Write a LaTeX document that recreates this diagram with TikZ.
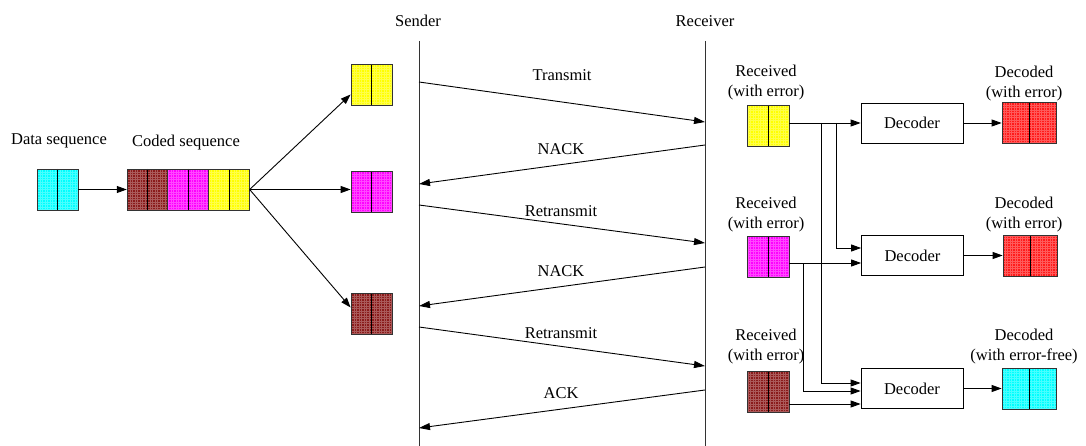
\documentclass[tikz,border=0pt]{standalone}
\usepackage{fontspec}
\setmainfont{Liberation Serif}
\usetikzlibrary{arrows.meta}

% cell colours
\definecolor{cyanbase}{HTML}{00FFFF}
\definecolor{yellowbase}{HTML}{FFFF00}
\definecolor{magentabase}{HTML}{FF00FF}
\definecolor{brownbase}{HTML}{8A1A1A}
\definecolor{redbase}{HTML}{FF1A1A}

\begin{document}
\begin{tikzpicture}[x=1pt,y=-1pt,
  font=\fontsize{16.5}{20}\selectfont,
  every node/.style={inner sep=0pt},
  twocell/.style={draw=black!80, line width=0.8pt,
    minimum width=41pt, minimum height=41pt,
    fill=#1base,
    path picture={
      \draw[white, opacity=0.28, line width=0.35pt, step=2.5pt]
        (path picture bounding box.south west) grid (path picture bounding box.north east);
      \draw[black, line width=0.8pt]
        (path picture bounding box.north) -- (path picture bounding box.south);}},
  outcell/.style={twocell=#1, minimum width=54pt},
  decoderbox/.style={draw, line width=0.8pt, minimum width=102pt, minimum height=40pt},
  label/.style={align=center},
  msg/.style={line width=0.9pt, -{Triangle[length=11pt,width=7pt]}},
  link/.style={line width=0.9pt, -{Triangle[length=10pt,width=7pt]}},
  lifeline/.style={line width=0.9pt, black!80}
]
\useasboundingbox (0,0) rectangle (1086,446);

% ---- source side ----
\node (datalbl) at (59,141) {Data sequence};
\node (codedlbl) at (186,143) {Coded sequence};
\node[twocell=cyan] (data) at (57.5,189.5) {};
\node[twocell=brown, minimum width=40.7pt] (cb) at (147.5,189.5) {};
\node[twocell=magenta, minimum width=40.7pt] (cm) at (188.2,189.5) {};
\node[twocell=yellow, minimum width=40.7pt] (cy) at (228.9,189.5) {};
\draw[link] (data.east) -- (cb.west);

% ---- packets at the sender ----
\node[twocell=yellow] (sy) at (371.5,84.5) {};
\node[twocell=magenta] (sm) at (371.5,191.5) {};
\node[twocell=brown] (sb) at (371.5,313.5) {};
\draw[link] (cy.east) -- ([yshift=-10pt]sy.west);
\draw[link] (cy.east) -- (cy.east -| sm.west);
\draw[link] (cy.east) -- ([yshift=6pt]sb.west);

% ---- lifelines ----
\node (sender) at (418,21) {Sender};
\node (receiver) at (705,21) {Receiver};
\coordinate (sTop) at (419,41); \coordinate (sBot) at (419,446);
\coordinate (rTop) at (705,41); \coordinate (rBot) at (705,446);
\draw[lifeline] (sTop) -- (sBot);
\draw[lifeline] (rTop) -- (rBot);

% ---- exchanged messages ----
\coordinate (s1) at (419,82);  \coordinate (r1) at (705,122);
\coordinate (r2) at (705,145); \coordinate (s2) at (419,184);
\coordinate (s3) at (419,205); \coordinate (r3) at (705,243);
\coordinate (r4) at (705,267); \coordinate (s4) at (419,306);
\coordinate (s5) at (419,327); \coordinate (r5) at (705,366);
\coordinate (r6) at (705,390); \coordinate (s6) at (419,428);
\draw[msg] (s1) -- (r1);
\draw[msg] (r2) -- (s2);
\draw[msg] (s3) -- (r3);
\draw[msg] (r4) -- (s4);
\draw[msg] (s5) -- (r5);
\draw[msg] (r6) -- (s6);
\node (m1) at (562,75) {Transmit};
\node (m2) at (561,149) {NACK};
\node (m3) at (561,211) {Retransmit};
\node (m4) at (561,271) {NACK};
\node (m5) at (561,333) {Retransmit};
\node (m6) at (561,393) {ACK};

% ---- receiver side ----
\node[label] (rl1) at (766,82.5) {Received\\(with error)};
\node[label] (rl2) at (766,215) {Received\\(with error)};
\node[label] (rl3) at (766,347) {Received\\(with error)};
\node[twocell=yellow, minimum width=42pt] (ry) at (768,125.5) {};
\node[twocell=magenta, minimum width=42pt] (rm) at (768,256.5) {};
\node[twocell=brown, minimum width=42pt] (rb) at (768,391.5) {};

\node[decoderbox] (dy) at (912,123) {Decoder};
\node[decoderbox] (dm) at (912.5,255.5) {Decoder};
\node[decoderbox] (db) at (912,388.5) {Decoder};

\node[label] (ol1) at (1024,84) {Decoded\\(with error)};
\node[label] (ol2) at (1024,215) {Decoded\\(with error)};
\node[label] (ol3) at (1024,347) {Decoded\\(with error-free)};
\node[outcell=red] (oy) at (1029,122.5) {};
\node[outcell=red] (om) at (1030,256) {};
\node[outcell=cyan] (ob) at (1029,388.5) {};

% inputs combined by each decoder
\coordinate (j1) at (821,123);
\coordinate (j2) at (836,123);
\coordinate (j3) at (803,263);
\coordinate (in2a) at ([yshift=7.5pt]dm.west);
\coordinate (in2b) at ([yshift=-7.5pt]dm.west);
\coordinate (in3a) at ([yshift=5.5pt]db.west);
\coordinate (in3b) at ([yshift=-2.5pt]db.west);
\coordinate (in3c) at ([yshift=-15.5pt]db.west);
\draw[link] (ry.east |- dy.west) -- (dy.west);
\draw[link] (j2) |- (in2a);
\draw[link] (rm.east |- in2b) -- (in2b);
\draw[link] (j1) |- (in3a);
\draw[link] (j3) |- (in3b);
\draw[link] (rb.east |- in3c) -- (in3c);

% decoder outputs
\draw[link] (dy.east) -- (dy.east -| oy.west);
\draw[link] (dm.east) -- (dm.east -| om.west);
\draw[link] (db.east) -- (db.east -| ob.west);
\end{tikzpicture}
\end{document}
